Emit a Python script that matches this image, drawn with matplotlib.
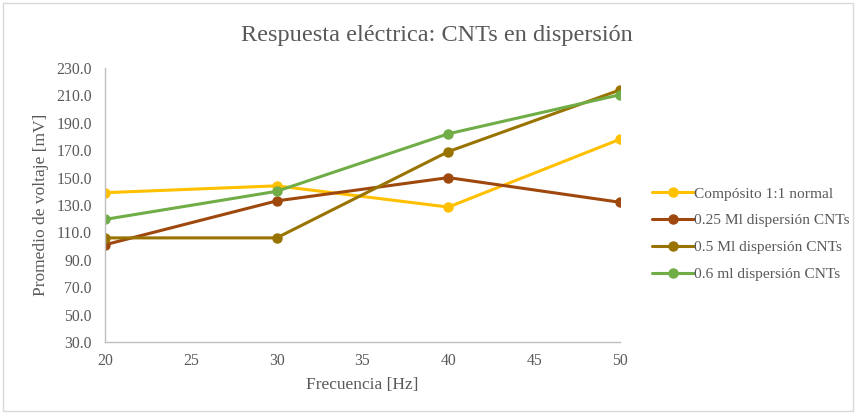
import matplotlib
matplotlib.use("Agg")
import matplotlib.pyplot as plt
from matplotlib.patches import Rectangle

plt.rcParams['font.family'] = ['Liberation Serif', 'DejaVu Serif']

frecuencia = [20, 30, 40, 50]
compuesto_normal = [139, 144, 128.5, 178]
disp_025 = [101, 133, 150, 132]
disp_05 = [106, 106, 169, 214]
disp_06 = [119.5, 140, 182, 210.5]

series_labels = ["Compósito 1:1 normal", "0.25 Ml dispersión CNTs",
                 "0.5 Ml dispersión CNTs", "0.6 ml dispersión CNTs"]
series_values = [compuesto_normal, disp_025, disp_05, disp_06]
colors = ["#FFC000", "#9E480E", "#997300", "#70AD47"]

x_ticks = [20, 25, 30, 35, 40, 45, 50]
y_ticks = [30, 50, 70, 90, 110, 130, 150, 170, 190, 210, 230]

text_color = "#595959"
axis_color = "#BFBFBF"

fig = plt.figure(figsize=(8.56, 4.13), dpi=100)
fig.patches.append(Rectangle((0.004, 0.004), 0.992, 0.988, transform=fig.transFigure,
                             fill=False, edgecolor="#D9D9D9", linewidth=1.0))

ax = fig.add_axes([0.1227, 0.1719, 0.6016, 0.6634])

for label, vals, c in zip(series_labels, series_values, colors):
    ax.plot(frecuencia, vals, color=c, linewidth=2.2, marker='o', markersize=6.5,
            label=label, solid_capstyle='round')

ax.set_xlim(20, 50)
ax.set_ylim(30, 230)
ax.set_xticks(x_ticks)
ax.set_yticks(y_ticks)
ax.set_yticklabels([f"{v:.1f}" for v in y_ticks])
ax.tick_params(axis='both', length=0, labelsize=11.3, labelcolor=text_color)
ax.tick_params(axis='y', pad=9.5)
ax.tick_params(axis='x', pad=8)

for side in ['top', 'right']:
    ax.spines[side].set_visible(False)
for side in ['left', 'bottom']:
    ax.spines[side].set_color(axis_color)
    ax.spines[side].set_linewidth(1.0)

ax.set_xlabel("Frecuencia [Hz]", fontsize=12.5, color=text_color, labelpad=6)
ax.set_ylabel("Promedio de voltaje [mV]", fontsize=12.5, color=text_color, labelpad=5)

fig.text(0.5105, 0.915, "Respuesta eléctrica: CNTs en dispersión", ha='center', va='center',
         fontsize=17.5, color=text_color)

leg = ax.legend(loc='center left', bbox_to_anchor=(652 / 856, 1 - 234 / 413),
                bbox_transform=fig.transFigure, frameon=False, borderpad=0,
                borderaxespad=0, fontsize=11.1, handlelength=2.75, handletextpad=0.0,
                labelspacing=0.85, labelcolor=text_color)

fig.savefig("out.png", dpi=100)
